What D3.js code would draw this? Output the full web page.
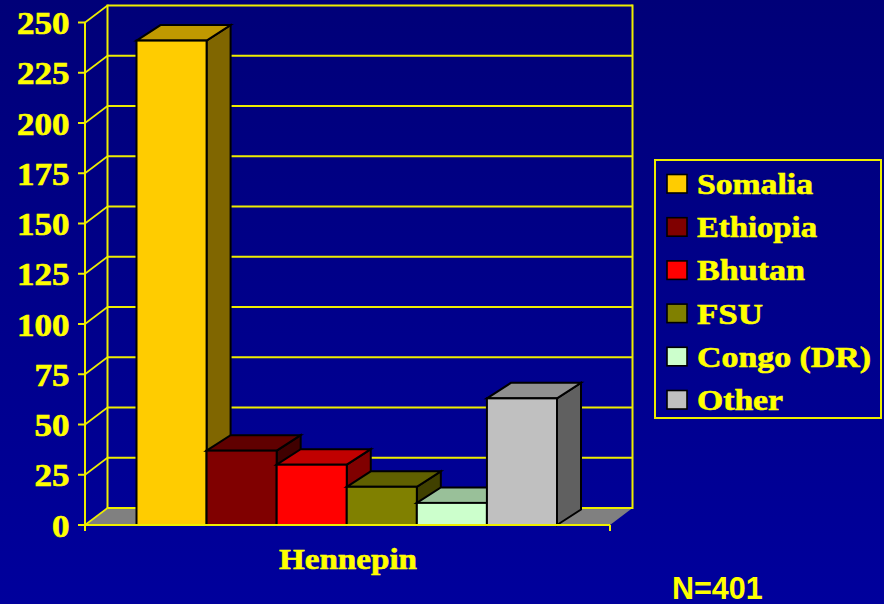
<!DOCTYPE html>
<html><head><meta charset="utf-8">
<script src="https://cdn.jsdelivr.net/npm/d3@7/dist/d3.min.js"></script>
<style>html,body{margin:0;padding:0;background:#000080;overflow:hidden}svg{display:block}</style>
</head><body><svg id="c" width="884" height="604"></svg>
<script>
const categories = ["Somalia","Ethiopia","Bhutan","FSU","Congo (DR)","Other"];
const values = [241,37,30,19,11,63];
const colors = ["#ffcc00","#800000","#ff0000","#808000","#ccffcc","#c0c0c0"];
const topColors = ["#c09900","#600000","#c00000","#606000","#99c099","#909090"];
const sideColors = ["#806600","#400000","#800000","#404000","#668066","#606060"];
const tickValues = [0,25,50,75,100,125,150,175,200,225,250];
const group = "Hennepin";
const note = "N=401";

const svg = d3.select("#c");
const Y = "#ffff00", YL="#eeee00", LW=2;
const defs = svg.append("defs");
const g = defs.append("linearGradient").attr("id","bg").attr("x1",0).attr("y1",0).attr("x2",0).attr("y2",1);
g.append("stop").attr("offset",0).attr("stop-color","#000078");
g.append("stop").attr("offset",1).attr("stop-color","#00009c");
svg.append("rect").attr("width",884).attr("height",604).attr("fill","url(#bg)");

const y = d3.scaleLinear().domain([0,250]).range([525,22.5]);
const x = d3.scaleBand().domain(categories).range([136.5,557]);
const floorX = [85,610], depthX = 22.5, depthY = -17, barDX = 24, barDY = -15.5;
const serif = "'Liberation Serif','Times New Roman',serif";

const plot = svg.append("g");
plot.append("path").attr("fill","#808080")
  .attr("d",`M${floorX[0]},525L${floorX[0]+depthX},${525+depthY}L${floorX[1]+depthX},${525+depthY}L${floorX[1]},525Z`);
plot.selectAll("line.grid").data(tickValues).join("line")
  .attr("x1",floorX[0]+depthX).attr("x2",floorX[1]+depthX)
  .attr("y1",d=>y(d)+depthY).attr("y2",d=>y(d)+depthY)
  .attr("stroke",YL).attr("stroke-width",LW);
plot.append("line").attr("x1",floorX[0]+depthX).attr("x2",floorX[0]+depthX).attr("y1",y(0)+depthY).attr("y2",y(250)+depthY-1).attr("stroke",YL).attr("stroke-width",LW);
plot.append("line").attr("x1",floorX[1]+depthX).attr("x2",floorX[1]+depthX).attr("y1",y(0)+depthY+1).attr("y2",y(250)+depthY-1).attr("stroke",YL).attr("stroke-width",LW);
plot.selectAll("line.side").data(tickValues).join("line")
  .attr("x1",floorX[0]).attr("x2",floorX[0]+depthX)
  .attr("y1",d=>y(d)).attr("y2",d=>y(d)+depthY)
  .attr("stroke",YL).attr("stroke-width",1.6);
const bw = x.bandwidth();
categories.forEach((c,i)=>{
  const x0=x(c), x1=x0+bw, t=y(values[i]), b=y(0);
  const bar = plot.append("g").attr("stroke","#000").attr("stroke-width",2).attr("stroke-linejoin","miter");
  bar.append("path").attr("fill",sideColors[i]).attr("d",`M${x1},${t}L${x1+barDX},${t+barDY}L${x1+barDX},${b+barDY}L${x1},${b}Z`);
  bar.append("path").attr("fill",topColors[i]).attr("d",`M${x0},${t}L${x0+barDX},${t+barDY}L${x1+barDX},${t+barDY}L${x1},${t}Z`);
  bar.append("rect").attr("fill",colors[i]).attr("x",x0).attr("y",t).attr("width",bw).attr("height",b-t);
});
plot.append("line").attr("x1",floorX[0]).attr("x2",floorX[0]).attr("y1",y(250)).attr("y2",y(0)+6).attr("stroke",YL).attr("stroke-width",LW);
plot.append("line").attr("x1",floorX[0]).attr("x2",floorX[1]).attr("y1",y(0)).attr("y2",y(0)).attr("stroke",YL).attr("stroke-width",LW);
plot.append("line").attr("x1",floorX[1]).attr("x2",floorX[1]).attr("y1",y(0)).attr("y2",y(0)+6).attr("stroke",YL).attr("stroke-width",LW);
plot.selectAll("line.tick").data(tickValues).join("line")
  .attr("x1",floorX[0]-7).attr("x2",floorX[0]).attr("y1",d=>y(d)).attr("y2",d=>y(d))
  .attr("stroke",YL).attr("stroke-width",LW);
const bold = s => s.attr("stroke",Y).attr("stroke-width",0.6);
svg.selectAll("text.t").data(tickValues).join("text").attr("class","t")
  .attr("x",69.5).attr("y",d=>y(d)+11.5).attr("text-anchor","end")
  .attr("font-family",serif).attr("font-weight","bold").attr("font-size",31).attr("fill",Y)
  .attr("textLength",d=>String(d).length*17.5).attr("lengthAdjust","spacingAndGlyphs").text(d=>d).call(bold);
svg.append("text").attr("x",279).attr("y",569)
  .attr("font-family",serif).attr("font-weight","bold").attr("font-size",29).attr("fill",Y)
  .attr("textLength",138).attr("lengthAdjust","spacingAndGlyphs").text(group).call(bold);
svg.append("text").attr("x",672).attr("y",599)
  .attr("font-family","'Liberation Sans',Arial,sans-serif").attr("font-weight","bold").attr("font-size",30.5).attr("fill",Y)
  .text(note);
svg.append("rect").attr("x",655).attr("y",160).attr("width",226).attr("height",258)
  .attr("fill","none").attr("stroke",YL).attr("stroke-width",LW);
const ly = d3.scalePoint().domain(categories).range([184,400]);
const leg = svg.selectAll("g.l").data(categories).join("g");
leg.append("rect").attr("x",667).attr("y",d=>ly(d)-9.5).attr("width",20).attr("height",18.5)
  .attr("fill",(d,i)=>colors[i]).attr("stroke","#000").attr("stroke-width",1.6);
const legW=[116,120,108,66,174,86];
leg.append("text").attr("x",697).attr("y",d=>ly(d)+10)
  .attr("font-family",serif).attr("font-weight","bold").attr("font-size",29).attr("fill",Y)
  .attr("textLength",(d,i)=>legW[i]).attr("lengthAdjust","spacingAndGlyphs").text(d=>d).call(bold);
</script></body></html>
